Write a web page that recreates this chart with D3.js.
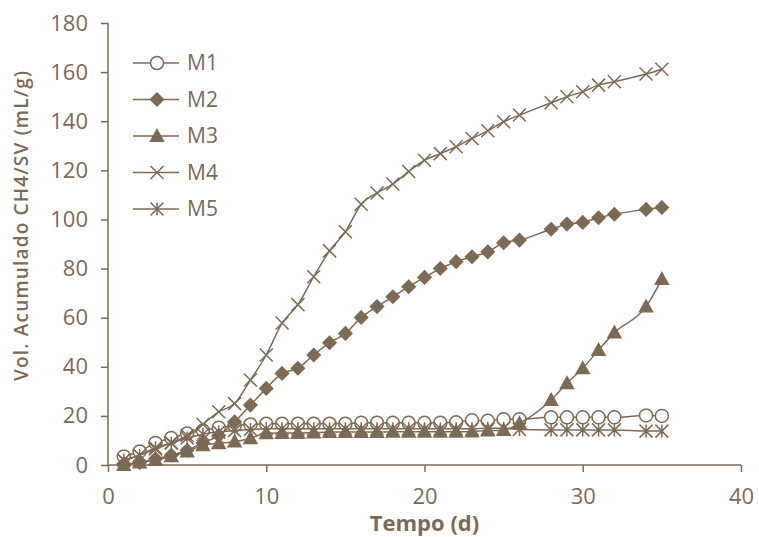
<!DOCTYPE html>
<html>
<head>
<meta charset="utf-8">
<script src="https://cdn.jsdelivr.net/npm/d3@7"></script>
<style>
  body { margin: 0; background: #fff; }
  svg { display: block; }
  text { font-family: "Open Sans", sans-serif; fill: #7d6a55; }
</style>
</head>
<body>
<svg width="759" height="537"></svg>
<script>
// dias de medição (27 e 33 sem medição)
const days = [1,2,3,4,5,6,7,8,9,10,11,12,13,14,15,16,17,18,19,20,21,22,23,24,25,26,28,29,30,31,32,34,35];

const m1 = [3.5,5.5,9,11,12.8,14,15.2,16,16.5,16.8,16.8,16.8,16.8,16.8,16.8,17.2,17.2,17.2,17.2,17.2,17.2,17.4,18.2,18,18.6,18.6,19.4,19.4,19.4,19.4,19.4,20.2,20];
const m2 = [0.5,1,2.5,4,6,9,12,17.6,24.4,31.2,37.3,39.4,44.8,49.8,53.6,60.1,64.5,68.5,72.6,76.4,80,82.8,84.8,86.8,90.5,91.6,96,98.1,98.8,100.7,102.1,104.1,104.9];
const m3 = [0,1,2,3.5,5.5,8,8.8,9.5,10.9,12.9,13,13,13.2,13.4,13.4,13.4,13.4,13.5,13.5,13.5,13.5,13.5,13.6,14,14.2,17,26.5,33.3,39.4,46.8,53.9,64.5,75.7];
const m4 = [2,4,6.5,9,12,16.6,21.7,25,34.6,44.8,57.8,65.3,76.7,87.2,95,106.2,110.8,114.4,119.5,124.1,126.8,129.6,133,136.1,139.8,142.5,147.5,150,152,154.7,156.1,159.2,161.2];
const m5 = [2,4,7,9,11,12.5,13.5,14,14.5,14.8,14.8,14.8,14.8,14.8,14.8,14.8,14.8,14.8,14.8,14.8,14.8,14.8,14.8,15,15,14.5,14.3,14.3,14.3,14.3,14.3,13.8,13.8];

const seriesNames = ["M1", "M2", "M3", "M4", "M5"];
const markerTypes = ["circle", "diamond", "triangle", "cross", "star"];
const xTicks = [0, 10, 20, 30, 40];
const yTicks = [0, 20, 40, 60, 80, 100, 120, 140, 160, 180];

const color = "#7d6a55";
const svg = d3.select("svg");

const x = d3.scaleLinear().domain([0, 40]).range([108, 741]);
const y = d3.scaleLinear().domain([0, 180]).range([465, 23]);

// eixos
const yAxis = svg.append("g")
  .attr("transform", "translate(108,0)")
  .call(d3.axisLeft(y).tickValues(yTicks).tickSize(7).tickPadding(13));
const xAxis = svg.append("g")
  .attr("transform", "translate(0,465)")
  .call(d3.axisBottom(x).tickValues(xTicks).tickSize(7).tickPadding(16));

[xAxis, yAxis].forEach(g => {
  g.selectAll("path, line").attr("stroke", color).attr("stroke-width", 1.5);
  g.selectAll("text").style("font-size", "22px").attr("fill", color);
});
yAxis.select(".domain").attr("d", "M0,465V23");
xAxis.select(".domain").attr("d", "M108,0H741");

svg.append("text")
  .attr("x", x(20))
  .attr("y", 531)
  .attr("text-anchor", "middle")
  .style("font-size", "22px")
  .style("font-weight", "bold")
  .text("Tempo (d)");

svg.append("text")
  .attr("transform", "translate(28,226) rotate(-90)")
  .attr("text-anchor", "middle")
  .attr("textLength", 310)
  .attr("lengthAdjust", "spacing")
  .style("font-size", "19px")
  .style("font-weight", "600")
  .text("Vol. Acumulado CH4/SV (mL/g)");

function marker(type) {
  const r = 6.5;
  switch (type) {
    case "circle":
      return `M${r},0A${r},${r} 0 1,1 ${-r},0A${r},${r} 0 1,1 ${r},0Z`;
    case "diamond":
      return `M0,${-r}L${r},0L0,${r}L${-r},0Z`;
    case "triangle":
      return `M0,${-r}L${r},${r * 0.8}L${-r},${r * 0.8}Z`;
    case "cross":
      return `M${-r},${-r}L${r},${r}M${-r},${r}L${r},${-r}`;
    default:
      return `M${-r},${-r}L${r},${r}M${-r},${r}L${r},${-r}M0,${-r}V${r}`;
  }
}

function markerStyle(sel, type) {
  sel.attr("d", marker(type))
    .attr("stroke", color)
    .attr("stroke-width", 1.5)
    .attr("fill", type === "circle" ? "#fff" : (type === "diamond" || type === "triangle") ? color : "none");
}

const line = d3.line()
  .x(d => x(d[0]))
  .y(d => y(d[1]))
  .curve(d3.curveMonotoneX);

const allSeries = [m1, m2, m3, m4, m5];

allSeries.forEach((vals, i) => {
  const pts = days.map((d, j) => [d, vals[j]]);
  const g = svg.append("g");
  g.append("path")
    .attr("d", line(pts))
    .attr("fill", "none")
    .attr("stroke", color)
    .attr("stroke-width", 1.5);
  g.selectAll("path.mk")
    .data(pts)
    .enter()
    .append("path")
    .attr("class", "mk")
    .attr("transform", d => `translate(${x(d[0])},${y(d[1])})`)
    .call(markerStyle, markerTypes[i]);
});

// legenda
const legend = svg.append("g");
seriesNames.forEach((name, i) => {
  const ly = 63 + i * 36.5;
  legend.append("line")
    .attr("x1", 133).attr("x2", 179)
    .attr("y1", ly).attr("y2", ly)
    .attr("stroke", color).attr("stroke-width", 1.5);
  legend.append("path")
    .attr("transform", `translate(157,${ly})`)
    .call(markerStyle, markerTypes[i]);
  legend.append("text")
    .attr("x", 187)
    .attr("y", ly)
    .attr("dy", "0.35em")
    .style("font-size", "21px")
    .text(name);
});
</script>
</body>
</html>
